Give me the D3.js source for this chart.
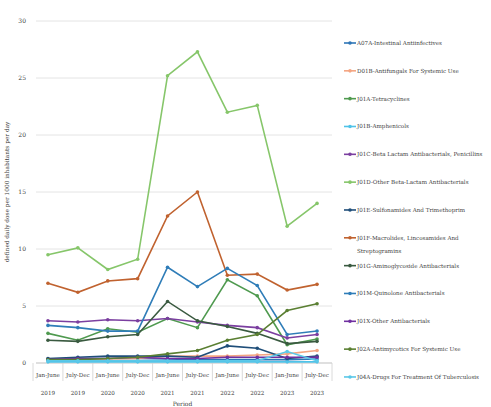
<!DOCTYPE html>
<html><head><meta charset="utf-8">
<script src="https://cdn.jsdelivr.net/npm/d3@7"></script>
<style>body{margin:0;background:#fff}svg{display:block}text{font-family:"DejaVu Serif","Liberation Serif",serif;fill:#404040}</style>
</head><body><svg id="c" width="491" height="407"></svg>
<script>
const periods = ["Jan-June","July-Dec","Jan-June","July-Dec","Jan-June","July-Dec","Jan-June","July-Dec","Jan-June","July-Dec"];
const years = ["2019","2019","2020","2020","2021","2021","2022","2022","2023","2023"];
const yTicks = [0,5,10,15,20,25,30];
const seriesNames = [
 "A07A-Intestinal Antiinfectives","D01B-Antifungals For Systemic Use","J01A-Tetracyclines","J01B-Amphenicols",
 "J01C-Beta Lactam Antibacterials, Penicillins","J01D-Other Beta-Lactam Antibacterials","J01E-Sulfonamides And Trimethoprim",
 "J01F-Macrolides, Lincosamides And Streptogramins","J01G-Aminoglycoside Antibacterials","J01M-Quinolone Antibacterials",
 "J01X-Other Antibacterials","J02A-Antimycotics For Systemic Use","J04A-Drugs For Treatment Of Tuberculosis"];
const A07A = [0.35,0.4,0.4,0.4,0.35,0.3,0.3,0.3,0.3,0.35];
const D01B = [0.3,0.3,0.35,0.4,0.6,0.6,0.6,0.7,0.8,1.1];
const J01A = [2.6,2.0,3.0,2.7,3.9,3.1,7.3,5.9,1.6,2.1];
const J01B = [0.1,0.1,0.1,0.1,0.1,0.1,0.1,0.1,0.1,0.1];
const J01C = [3.7,3.6,3.8,3.7,3.9,3.6,3.3,3.1,2.2,2.5];
const J01D = [9.5,10.1,8.2,9.1,25.2,27.3,22.0,22.6,12.0,14.0];
const J01E = [0.4,0.5,0.6,0.6,0.6,0.5,1.5,1.3,0.4,0.6];
const J01F = [7.0,6.2,7.2,7.4,12.9,15.0,7.7,7.8,6.4,6.9];
const J01G = [2.0,1.9,2.3,2.5,5.4,3.7,3.2,2.6,1.7,1.9];
const J01M = [3.3,3.1,2.8,2.8,8.4,6.7,8.3,6.8,2.5,2.8];
const J01X = [0.3,0.4,0.4,0.5,0.4,0.4,0.5,0.5,0.5,0.5];
const J02A = [0.3,0.3,0.4,0.5,0.8,1.1,2.0,2.5,4.6,5.2];
const J04A = [0.2,0.2,0.2,0.2,0.2,0.2,0.2,0.2,1.0,0.2];
const allValues = [A07A,D01B,J01A,J01B,J01C,J01D,J01E,J01F,J01G,J01M,J01X,J02A,J04A];
const colors = ["#2E75B6","#F4A582","#4F9A4F","#4FC3E8","#7B3FA0","#86C66A","#1F4E79","#C0622F","#3A5A40","#2F7DB8","#7030A0","#5A7F32","#5BC8E8"];

const svg = d3.select("#c");
const L=33, R=332, T=21, B=363;
const idx = d3.range(periods.length);
const x = d3.scaleBand().domain(idx).range([L,R]);
const cx = i => x(i)+x.bandwidth()/2;
const y = d3.scaleLinear().domain([0,30]).range([B,T]);

svg.append("g").selectAll("line").data(yTicks).join("line")
 .attr("x1",L+3).attr("x2",R).attr("y1",d=>y(d)).attr("y2",d=>y(d))
 .attr("stroke",d=>d===0?"#bfbfbf":"#e4e4e4").attr("stroke-width",1);
svg.append("g").selectAll("text").data(yTicks).join("text")
 .attr("x",26).attr("y",d=>y(d)+2).attr("text-anchor","end").attr("font-size",6).text(d=>d);
svg.append("g").selectAll("line").data(d3.range(periods.length+1)).join("line")
 .attr("x1",i=>L+i*x.bandwidth()).attr("x2",i=>L+i*x.bandwidth()).attr("y1",B).attr("y2",B+18)
 .attr("stroke","#d0d0d0").attr("stroke-width",0.8);
const xl = svg.append("g");
xl.selectAll("text.p").data(idx).join("text").attr("class","p")
 .attr("x",cx).attr("y",B+14).attr("text-anchor","middle").attr("font-size",5.6).text(i=>periods[i]);
xl.selectAll("text.yr").data(idx).join("text").attr("class","yr")
 .attr("x",cx).attr("y",B+32).attr("text-anchor","middle").attr("font-size",5.6).text(i=>years[i]);
svg.append("text").attr("x",(L+R)/2).attr("y",406).attr("text-anchor","middle").attr("font-size",6).text("Period");
svg.append("text").attr("transform",`translate(9,${(T+B)/2}) rotate(-90)`).attr("text-anchor","middle")
 .attr("font-size",5.8).text("defined daily dose per 1000 inhabitants per day");

const line = d3.line().x((d,i)=>cx(i)).y(d=>y(d));
allValues.forEach((vals,k)=>{
  const g = svg.append("g");
  g.append("path").datum(vals).attr("d",line).attr("fill","none").attr("stroke",colors[k]).attr("stroke-width",1.6);
  g.selectAll("circle").data(vals).join("circle").attr("cx",(d,i)=>cx(i)).attr("cy",d=>y(d)).attr("r",1.8).attr("fill",colors[k]);
});

const lg = svg.append("g");
seriesNames.forEach((name,k)=>{
  const yy = 43 + k*27.83;
  lg.append("line").attr("x1",344).attr("x2",356).attr("y1",yy).attr("y2",yy).attr("stroke",colors[k]).attr("stroke-width",1.6);
  lg.append("circle").attr("cx",350).attr("cy",yy).attr("r",1.8).attr("fill",colors[k]);
  if(name.startsWith("J01F")){
    lg.append("text").attr("x",357).attr("y",yy+2).attr("font-size",5.6).text("J01F-Macrolides, Lincosamides And");
    lg.append("text").attr("x",357).attr("y",yy+15).attr("font-size",5.6).text("Streptogramins");
  } else {
    lg.append("text").attr("x",357).attr("y",yy+2).attr("font-size",5.6).text(name);
  }
});
</script></body></html>
